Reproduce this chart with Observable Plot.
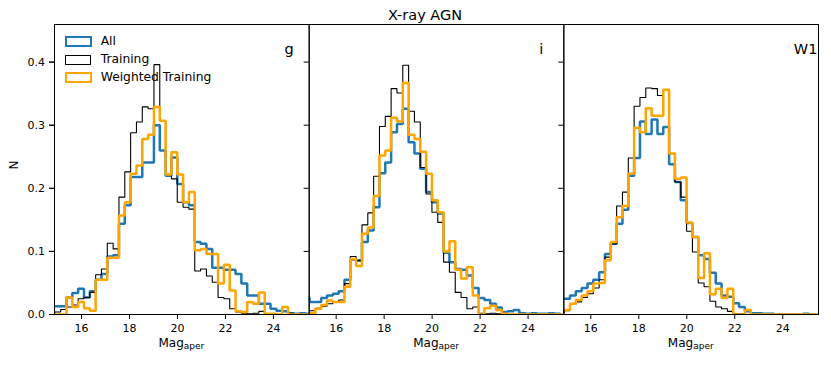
<!DOCTYPE html>
<html>
<head>
<meta charset="utf-8">
<script src="https://cdn.jsdelivr.net/npm/d3@7"></script>
<script src="https://cdn.jsdelivr.net/npm/@observablehq/plot@0.6"></script>
<style>
  body { margin: 0; background: #fff; font-family: "DejaVu Sans", sans-serif; }
  #wrap { position: relative; width: 831px; height: 365px; overflow: hidden; }
  #title { position: absolute; top: 7px; left: 325px; width: 200px; text-align: center; font-size: 14.5px; line-height: normal; color: #000; }
  .sw { position: absolute; box-sizing: border-box; background: transparent; }
  .lt { position: absolute; font-size: 12.3px; line-height: normal; color: #000; white-space: nowrap; }
</style>
</head>
<body>
<div id="wrap">
  <div id="chart"></div>
  <div id="title">X-ray AGN</div>
  <div id="legend"></div>
</div>
<script>
// ---- data ----
const panels = ["g", "i", "W1"];
const series = ["All", "Training", "Weighted Training"];
const binStart = 14.646;
const binWidth = 0.243;
const xTicks = [16, 18, 20, 22, 24];
const yTicks = [0, 0.1, 0.2, 0.3, 0.4];

const gAll = [0.013,0.013,0.013,0.027,0.034,0.041,0.027,0.037,0.055,0.064,0.092,0.094,0.144,0.173,0.218,0.218,0.241,0.241,0.300,0.260,0.220,0.249,0.207,0.178,0.173,0.115,0.112,0.104,0.074,0.074,0.071,0.071,0.064,0.049,0.030,0.030,0.017,0.017,0.009,0.006,0.005,0.002,0.001,0.002,0.001];
const gTraining = [0,0.004,0.008,0.012,0.015,0.025,0.027,0.035,0.063,0.072,0.113,0.104,0.186,0.226,0.288,0.305,0.329,0.326,0.396,0.307,0.222,0.215,0.178,0.170,0.167,0.069,0.072,0.061,0.051,0.027,0.025,0.009,0.004,0.002,0.001,0.002,0.005,0.001,0,0,0,0.002,0,0,0];
const gWeighted = [0,0,0,0.027,0.012,0.020,0.010,0.006,0.055,0.055,0.090,0.090,0.157,0.178,0.223,0.236,0.278,0.285,0.329,0.307,0.222,0.257,0.222,0.178,0.194,0.102,0.104,0.096,0.096,0.049,0.079,0.038,0.005,0.004,0.020,0.017,0.035,0.001,0.001,0,0.012,0,0,0,0];

const iAll = [0.027,0.020,0.020,0.026,0.030,0.033,0.037,0.055,0.087,0.086,0.115,0.133,0.170,0.224,0.241,0.289,0.302,0.326,0.273,0.255,0.231,0.194,0.178,0.160,0.098,0.083,0.072,0.071,0.062,0.042,0.026,0.023,0.017,0.011,0.004,0.005,0.007,0.002,0.001,0.002,0.001,0.001,0.002,0.001,0];
const iTraining = [0.003,0.006,0.010,0.013,0.017,0.020,0.023,0.049,0.092,0.085,0.142,0.161,0.219,0.298,0.314,0.358,0.351,0.395,0.322,0.305,0.233,0.191,0.162,0.146,0.083,0.067,0.035,0.027,0.009,0.012,0.002,0.001,0.002,0.001,0,0,0,0,0,0,0,0,0,0,0];
const iWeighted = [0,0.002,0.009,0.015,0.022,0.020,0.020,0.044,0.088,0.077,0.128,0.138,0.188,0.252,0.260,0.312,0.306,0.367,0.285,0.278,0.258,0.223,0.181,0.162,0.100,0.116,0.071,0.057,0.075,0.030,0,0.010,0.014,0.007,0.001,0,0,0,0,0,0,0,0,0,0];

const w1All = [0.025,0.025,0.030,0.037,0.042,0.049,0.055,0.067,0.096,0.112,0.144,0.166,0.220,0.248,0.306,0.286,0.309,0.286,0.297,0.238,0.210,0.181,0.145,0.123,0.094,0.088,0.066,0.049,0.030,0.028,0.018,0.012,0.005,0.002,0.002,0.001,0.001,0,0,0,0,0,0.001,0,0];
const w1Training = [0.003,0.006,0.016,0.020,0.027,0.033,0.042,0.055,0.091,0.112,0.172,0.194,0.248,0.330,0.344,0.359,0.358,0.347,0.356,0.255,0.210,0.186,0.132,0.099,0.050,0.044,0.021,0.012,0.009,0.005,0.001,0.001,0,0,0,0,0,0,0,0,0,0,0,0,0];
const w1Weighted = [0.007,0.007,0.017,0.023,0.030,0.037,0.049,0.050,0.086,0.115,0.154,0.172,0.223,0.296,0.289,0.327,0.315,0.315,0.356,0.255,0.215,0.217,0.146,0.123,0.058,0.097,0.032,0.041,0.026,0.041,0,0,0.007,0,0,0,0,0,0,0,0,0,0,0,0];

// ---- build step outlines ----
const table = {
  "g":  {"All": gAll,  "Training": gTraining,  "Weighted Training": gWeighted},
  "i":  {"All": iAll,  "Training": iTraining,  "Weighted Training": iWeighted},
  "W1": {"All": w1All, "Training": w1Training, "Weighted Training": w1Weighted}
};
const colors = {"All": "#1f77b4", "Training": "#000000", "Weighted Training": "#ffa500"};
const widths = {"All": 2.5, "Training": 1.1, "Weighted Training": 2.5};

const rows = [];
for (const p of panels) {
  for (const s of series) {
    const v = table[p][s];
    rows.push({panel: p, series: s, x: binStart, y: 0});
    v.forEach((d, k) => rows.push({panel: p, series: s, x: binStart + k * binWidth, y: d}));
    rows.push({panel: p, series: s, x: binStart + v.length * binWidth, y: 0});
  }
}

const lineMarks = series.map(s => Plot.line(rows.filter(r => r.series === s), {
  x: "x", y: "y", fx: "panel", curve: "step-after", clip: true,
  stroke: colors[s], strokeWidth: widths[s], strokeLinejoin: "miter", strokeLinecap: "butt"
}));

const chart = Plot.plot({
  width: 831,
  height: 365,
  marginTop: 24,
  marginBottom: 51,
  marginLeft: 54,
  marginRight: 13,
  style: {fontFamily: "DejaVu Sans, sans-serif", fontSize: "11px", background: "#fff", color: "#000"},
  fx: {domain: panels, padding: 0, axis: null, round: false},
  x: {domain: [14.875, 25.49], round: false},
  y: {domain: [0, 0.4596], nice: false, round: false},
  marks: [
    ...lineMarks,
    Plot.frame({stroke: "#000", strokeWidth: 1}),
    Plot.axisX({ticks: xTicks, tickSize: 5, tickPadding: 4.5, fontSize: 11, label: null, tickFormat: d => String(d)}),
    Plot.axisY({ticks: yTicks, tickSize: 5, tickPadding: 4.5, fontSize: 11, label: null, tickFormat: d3.format(".1f")}),
    Plot.axisY({ticks: yTicks, tickSize: 5, tickFormat: () => "", label: null, facetAnchor: null}),
    Plot.text(panels, {fx: d => d, text: d => d, frameAnchor: "top-left", textAnchor: "start", lineAnchor: "top", dx: 230, dy: 19.2, fontSize: 14.5}),
    Plot.text(panels, {fx: d => d, text: () => "Mag", frameAnchor: "bottom", textAnchor: "end", dx: 2, dy: 32.2, fontSize: 12}),
    Plot.text(panels, {fx: d => d, text: () => "aper", frameAnchor: "bottom", textAnchor: "start", dx: 2, dy: 34.8, fontSize: 9}),
    Plot.text(["N"], {fx: () => "g", text: d => d, frameAnchor: "left", dx: -40, rotate: -90, fontSize: 12})
  ]
});
document.getElementById("chart").appendChild(chart);

// ---- legend (inside first panel) ----
const legend = document.getElementById("legend");
const legendRows = [
  {top: 35.7, left: 64.5, w: 27.5, h: 11, bw: 2.5},
  {top: 54.5, left: 65, w: 26, h: 10, bw: 1.1},
  {top: 72.3, left: 64.5, w: 27.5, h: 11, bw: 2.5}
];
series.forEach((s, k) => {
  const r = legendRows[k];
  const sw = document.createElement("div");
  sw.className = "sw";
  sw.style.left = r.left + "px";
  sw.style.top = r.top + "px";
  sw.style.width = r.w + "px";
  sw.style.height = r.h + "px";
  sw.style.border = r.bw + "px solid " + colors[s];
  legend.appendChild(sw);
  const t = document.createElement("div");
  t.className = "lt";
  t.textContent = s;
  t.style.left = "100.7px";
  t.style.top = (45 + 18.3 * k - 11.4) + "px";
  legend.appendChild(t);
});
</script>
</body>
</html>
